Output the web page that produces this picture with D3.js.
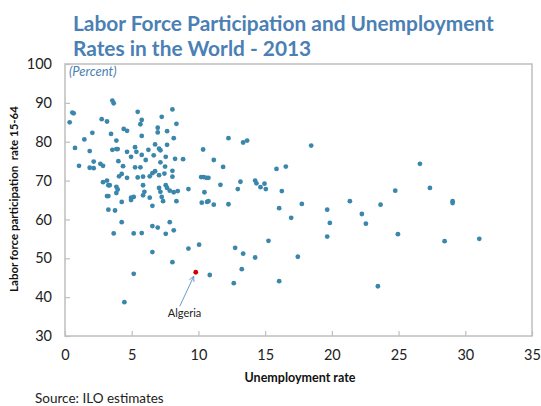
<!DOCTYPE html>
<html>
<head>
<meta charset="utf-8">
<script src="https://cdn.jsdelivr.net/npm/d3@7"></script>
<style>
  body { margin: 0; background: #fff; }
  svg { display: block; }
  text { font-family: Lato, "Open Sans", "DejaVu Sans", sans-serif; }
</style>
</head>
<body>
<svg id="chart" width="541" height="406"></svg>
<script>
// ---- Data ----
const titleLines = ["Labor Force Participation and Unemployment", "Rates in the World - 2013"];
const xTicks = [0, 5, 10, 15, 20, 25, 30, 35];
const yTicks = [30, 40, 50, 60, 70, 80, 90, 100];
const unemployment = [
  3.55,3.65,5.45,8.05,0.55,0.65,0.35,2.75,3.15,7.25,5.75,5.65,8.35,4.4,4.65,2.05,3.45,6.95,6.95,7.65,
  1.45,3.85,5.75,8.15,6.75,0.75,1.85,3.55,3.85,3.95,4.65,5.25,5.35,6.25,7.05,7.15,7.65,4.95,5.75,6.65,
  7.55,8.25,8.85,2.15,2.65,2.85,1.05,1.85,2.15,4.0,4.35,5.25,5.65,6.05,7.15,7.5,8.05,8.05,4.05,4.25,
  4.65,5.45,5.85,6.35,6.55,6.75,7.05,7.45,2.85,3.15,3.25,3.35,3.85,3.95,5.85,5.95,7.05,7.15,7.55,7.65,
  7.85,8.15,8.45,9.25,3.15,3.25,3.85,4.25,4.95,5.15,4.95,5.85,6.35,6.55,7.25,7.35,8.35,3.25,3.75,4.25,
  6.55,6.95,7.85,8.15,3.65,5.15,5.75,7.55,9.25,6.55,8.05,5.15,4.45,
  12.25,13.35,13.65,18.45,10.35,11.15,11.85,15.85,16.55,10.2,10.4,10.6,10.75,10.45,11.65,13.15,12.95,
  14.25,14.35,14.95,14.65,15.05,16.25,10.25,10.65,10.75,11.15,12.25,16.05,17.75,16.95,
  10.05,12.75,13.35,14.25,15.25,17.45,10.85,13.25,12.65,16.05,
  26.6,24.75,27.35,21.35,23.65,29.05,29.05,19.65,22.25,19.85,22.55,19.65,24.95,28.45,31.05,23.45
];
const participation = [
  90.6,89.9,87.7,88.3,87.5,87.3,85.0,85.8,85.2,86.4,85.6,84.5,84.6,83.3,82.8,82.3,82.0,83.6,82.4,82.7,
  80.6,80.3,81.5,80.9,79.3,78.4,77.6,77.9,78.1,78.1,77.4,78.6,77.4,77.9,78.2,77.8,79.2,76.1,76.6,76.5,
  76.1,75.6,75.5,74.9,74.3,73.8,73.8,73.3,73.2,75.0,73.7,73.4,73.4,75.3,74.7,73.6,72.5,71.0,71.1,71.7,
  70.7,70.8,71.0,71.1,71.9,72.4,71.4,71.8,69.6,70.0,68.8,68.8,68.4,67.7,68.8,67.1,68.1,67.1,68.8,68.1,
  67.4,67.0,67.3,67.8,66.0,66.0,66.8,64.5,65.6,65.8,65.0,66.2,65.6,63.5,65.8,64.7,64.7,62.5,62.3,59.3,
  58.3,57.9,59.3,57.2,56.4,56.4,56.5,56.3,52.5,51.6,49.0,46.0,38.7,
  80.9,79.8,80.3,79.0,78.0,75.3,73.5,73.0,73.6,70.9,70.9,70.7,70.7,67.0,68.9,69.7,67.8,
  70.0,69.3,69.2,68.3,67.8,67.3,64.3,64.5,64.7,63.8,63.9,62.9,64.0,60.4,
  53.5,52.7,51.2,50.2,54.5,50.4,45.7,47.2,43.6,44.1,
  74.3,67.4,68.1,64.7,63.8,64.7,64.2,62.5,61.4,59.1,58.9,55.6,56.2,54.4,55.0,42.8
];
const highlightName = ["Algeria"];
const highlightX = [9.8];
const highlightY = [46.4];

(function () {
// ---- Layout ----
const svg = d3.select("#chart");
const pLeft = 65, pRight = 532, pTop = 64, pBottom = 336;
const x = d3.scaleLinear().domain([0, 35]).range([pLeft, pRight]);
const y = d3.scaleLinear().domain([30, 100]).range([pBottom, pTop]);

const titleColor = "#4a80b4";
const dotColor = "#3b86ab";
const frameColor = "#bfbfbf";

// Title
const t = svg.append("g");
titleLines.forEach((line, i) => {
  t.append("text")
    .attr("x", 73).attr("y", 31 + i * 25)
    .attr("font-size", 20).attr("font-weight", "bold")
    .attr("fill", titleColor)
    .text(line);
});
const first = t.select("text").node();
const w = first.getComputedTextLength();
const fs = 20 * 421 / w;
t.selectAll("text").attr("font-size", fs);

// Frame
svg.append("rect")
  .attr("x", pLeft).attr("y", pTop)
  .attr("width", pRight - pLeft).attr("height", pBottom - pTop)
  .attr("fill", "none").attr("stroke", frameColor).attr("stroke-width", 1.5);

// Y axis (inside ticks on the left border)
const yAxis = d3.axisRight(y).tickValues(yTicks).tickSize(5).tickFormat(d3.format("d"));
const yg = svg.append("g").attr("transform", `translate(${pLeft},0)`).call(yAxis);
yg.select(".domain").remove();
yg.selectAll(".tick line").attr("stroke", frameColor).attr("stroke-width", 1.2);
yg.selectAll(".tick text")
  .attr("x", -13).attr("text-anchor", "end")
  .attr("font-size", 14.5).attr("fill", "#222")
  .attr("font-family", "Lato, sans-serif");

// X axis (inside ticks on the bottom border)
const xAxis = d3.axisTop(x).tickValues(xTicks).tickSize(5).tickFormat(d3.format("d"));
const xg = svg.append("g").attr("transform", `translate(0,${pBottom})`).call(xAxis);
xg.select(".domain").remove();
xg.selectAll(".tick line").attr("stroke", frameColor).attr("stroke-width", 1.2);
xg.selectAll(".tick text")
  .attr("y", 19).attr("dy", "0.32em").attr("text-anchor", "middle")
  .attr("font-size", 14.5).attr("fill", "#222")
  .attr("font-family", "Lato, sans-serif");

// (Percent)
svg.append("text")
  .attr("x", 69).attr("y", 76)
  .attr("font-size", 13).attr("font-style", "italic")
  .attr("fill", titleColor)
  .text("(Percent)");

// Axis titles
svg.append("text")
  .attr("transform", "translate(18,199) rotate(-90)")
  .attr("text-anchor", "middle")
  .attr("font-size", 11.5).attr("font-weight", "bold").attr("fill", "#111")
  .style("white-space", "pre")
  .text("Labor force participation  rate 15-64");

svg.append("text")
  .attr("x", 300).attr("y", 382)
  .attr("text-anchor", "middle")
  .attr("font-size", 12.5).attr("font-weight", "bold").attr("fill", "#111")
  .text("Unemployment rate");

svg.append("text")
  .attr("x", 35).attr("y", 403)
  .attr("font-size", 13.5).attr("fill", "#222")
  .text("Source: ILO estimates");

// Points
const pts = unemployment.map((u, i) => ({ u, p: participation[i] }));
svg.append("g").selectAll("circle").data(pts).join("circle")
  .attr("cx", d => x(d.u)).attr("cy", d => y(d.p))
  .attr("r", 2.4).attr("fill", dotColor);

// Highlight
const hl = highlightName.map((n, i) => ({ n, u: highlightX[i], p: highlightY[i] }));
svg.append("defs").append("marker")
  .attr("id", "arr").attr("viewBox", "0 0 10 10")
  .attr("refX", 9).attr("refY", 5)
  .attr("markerWidth", 7).attr("markerHeight", 7)
  .attr("orient", "auto")
  .append("path").attr("d", "M1,1 L9,5 L1,9")
  .attr("fill", "none").attr("stroke", "#5b8fc7").attr("stroke-width", 1.3);

hl.forEach(d => {
  const cx = x(d.u), cy = y(d.p);
  svg.append("line")
    .attr("x1", cx - 16).attr("y1", cy + 34)
    .attr("x2", cx - 2).attr("y2", cy + 4)
    .attr("stroke", "#5b8fc7").attr("stroke-width", 0.9)
    .attr("marker-end", "url(#arr)");
  svg.append("circle").attr("cx", cx).attr("cy", cy).attr("r", 2.4).attr("fill", "#d00000");
  svg.append("text")
    .attr("x", cx - 28).attr("y", cy + 45)
    .attr("font-size", 11).attr("fill", "#222")
    .text(d.n);
});
})();
</script>
</body>
</html>
